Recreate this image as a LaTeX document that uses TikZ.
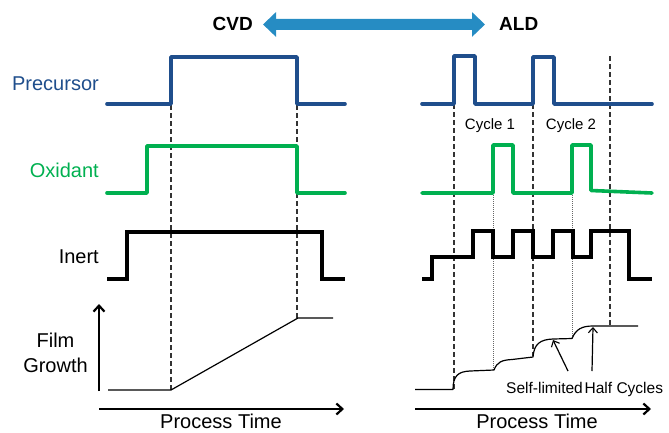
\documentclass[tikz,border=0pt]{standalone}
\usepackage{fontspec}
\setmainfont{Liberation Sans}
\usetikzlibrary{arrows.meta}
\definecolor{precblue}{RGB}{31,78,140}
\definecolor{oxgreen}{RGB}{0,176,80}
\definecolor{arrowblue}{RGB}{38,140,195}
\begin{document}
\begin{tikzpicture}[x=1pt,y=-1pt,
  lbl/.style={font=\fontsize{20}{24}\selectfont, inner sep=0pt},
  small/.style={font=\fontsize{15}{18}\selectfont, inner sep=0pt},
  prec/.style={precblue, line width=3.6pt, line join=round, line cap=round},
  oxid/.style={oxgreen, line width=3.6pt, line join=round, line cap=round},
  inert/.style={black, line width=4pt, line join=miter},
  growth/.style={black, line width=1.2pt, line join=round},
  guide/.style={black!80, line width=1.1pt, dash pattern=on 5pt off 3pt},
  dotguide/.style={black!60, line width=0.9pt, dash pattern=on 1pt off 1pt},
  axis/.style={black, line width=2.4pt, -{Straight Barb[length=6pt,width=11pt,line width=2.2pt]}},
  small arrow/.style={black, line width=1.2pt, -{Straight Barb[length=5pt,width=9pt,line width=1.1pt]}},
  bigarrow/.style={arrowblue, line width=11pt,
    {Triangle[length=13pt,width=24pt]}-{Triangle[length=13pt,width=24pt]}}
]
\useasboundingbox (0,0) rectangle (669,432);

% title
\node[lbl, font=\fontsize{19}{22}\selectfont\bfseries, anchor=base east] (cvd) at (253,30.5) {CVD};
\node[lbl, font=\fontsize{19}{22}\selectfont\bfseries, anchor=base west] (ald) at (499,30.5) {ALD};
\draw[bigarrow] ([xshift=10pt,yshift=-0.5pt]cvd.east) -- ([xshift=-14pt,yshift=-0.5pt]ald.west);

% labels
\node[lbl, precblue, anchor=base east] (lprec) at (99,90) {Precursor};
\node[lbl, oxgreen, anchor=base east] (lox) at (99,177) {Oxidant};
\node[lbl, anchor=base east] (linert) at (99,263) {Inert};
\node[lbl, anchor=base] (lfilm) at (55.5,347) {Film};
\node[lbl, anchor=base] (lgrowth) at (55.5,372) {Growth};

% guide lines CVD
\draw[guide] (171,57) -- (171,390);
\draw[guide] (297,57) -- (297,318);
% guide lines ALD
\draw[guide] (454,56) -- (454,389);
\draw[guide] (533,56) -- (533,356);
\draw[guide] (610,56) -- (610,326);
\draw[dotguide] (493,145) -- (493,370);
\draw[dotguide] (572,145) -- (572,339);

% CVD waveforms
\draw[prec] (107,104) -- (171,104) -- (171,57) -- (297,57) -- (297,104) -- (345,104);
\draw[oxid] (107,193) -- (147,193) -- (147,146) -- (297,146) -- (297,193) -- (345,193);
\draw[inert] (107,279) -- (127,279) -- (127,232) -- (322,232) -- (322,279) -- (345,279);
\draw[growth] (108,390) -- (171,390) -- (298,318) -- (333,318);

% ALD waveforms
\draw[prec] (422,104) -- (454,104) -- (454,56) -- (475,56) -- (475,104) -- (533,104) -- (533,57) -- (554,57) -- (554,104) -- (652,104);
\draw[oxid] (422,193) -- (493,193) -- (493,145) -- (513,145) -- (513,193) -- (572,193) -- (572,145) -- (591,145) -- (591,190.5) -- (652,193);
\draw[inert] (422,279) -- (432,279) -- (432,257) -- (473,257) -- (473,231) -- (493,231) -- (493,257) -- (513,257) -- (513,231) -- (533,231) -- (533,257) -- (553,257) -- (553,231) -- (573,231) -- (573,257) -- (591,257) -- (591,231) -- (629,231) -- (629,279) -- (652,279);
\draw[growth] (415,389.5) -- (453,389.5)
  .. controls (453,376) and (458,371.5) .. (470,371) -- (494,370)
  .. controls (497,362) and (502,360) .. (512,359.5) -- (533,357)
  .. controls (534,344) and (540,339.5) .. (553,339) -- (572,338.5)
  .. controls (576,329) and (582,326) .. (593,326) -- (638,326);

% cycle labels
\node[small, anchor=base] (c1) at (490,129) {Cycle 1};
\node[small, anchor=base] (c2) at (571,129) {Cycle 2};

% self-limited
\node[small, anchor=base west, font=\fontsize{15.5}{18}\selectfont] (self) at (506,393) {Self-limited\hspace{-2.5pt} Half Cycles};
\coordinate (a1s) at (568,371);
\coordinate (a1e) at (553,340);
\coordinate (a2s) at (592,371);
\coordinate (a2e) at (593,327);
\draw[small arrow] (a1s) -- (a1e);
\draw[small arrow] (a2s) -- (a2e);

% axes
\coordinate (ya0) at (99,391);
\coordinate (ya1) at (99,304);
\draw[axis] (ya0) -- (ya1);
\coordinate (xa0) at (99,409);
\coordinate (xa1) at (344,409);
\draw[axis] (xa0) -- (xa1);
\coordinate (xb0) at (415,409);
\coordinate (xb1) at (651,409);
\draw[axis] (xb0) -- (xb1);
\node[lbl, anchor=base] (pt1) at (221,428) {Process Time};
\node[lbl, anchor=base] (pt2) at (537,428) {Process Time};
\end{tikzpicture}
\end{document}
